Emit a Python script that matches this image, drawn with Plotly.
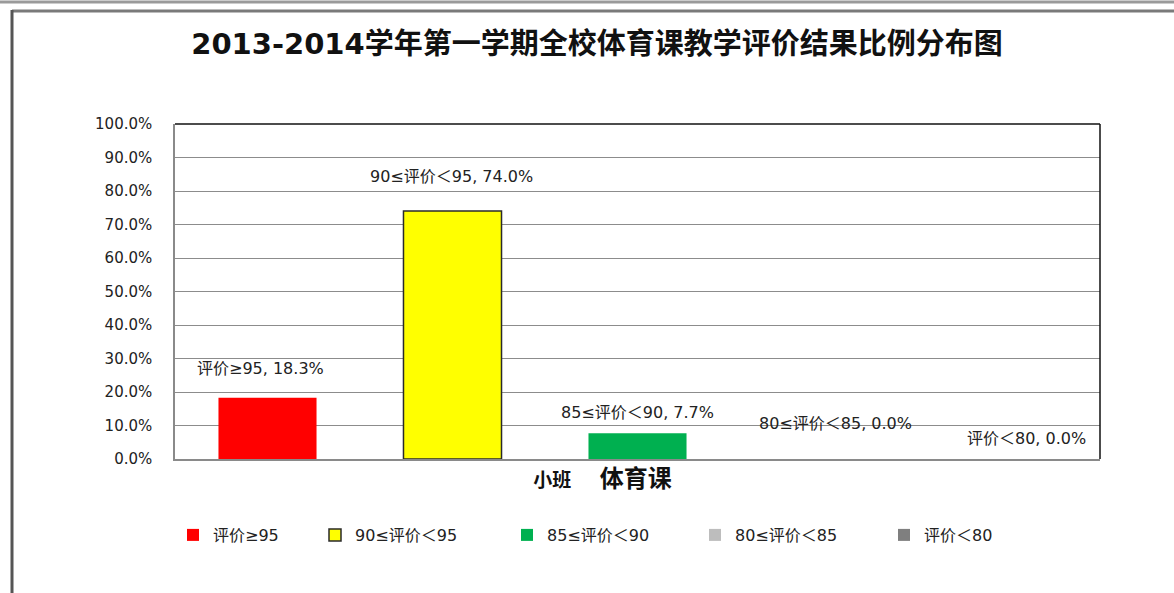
import plotly.graph_objects as go

# ---- data ----
category = ["<span style='font-size:19px'>小班</span>" + "\u00a0" * 7 + "<span style='font-size:24px'>体育课</span>"]
series_names = ["评价≥95", "90≤评价＜95", "85≤评价＜90", "80≤评价＜85", "评价＜80"]
values = [18.3, 74.0, 7.7, 0.0, 0.0]
colors = ["#FF0000", "#FFFF00", "#00B050", "#BDBDBD", "#7F7F7F"]
outline = ["#FF0000", "#2a2a2a", "#00B050", "#BDBDBD", "#7F7F7F"]
y_ticks = [0, 10, 20, 30, 40, 50, 60, 70, 80, 90, 100]
y_ticktext = [f"{v:.1f}%" for v in y_ticks]
title_text = "2013-2014学年第一学期全校体育课教学评价结果比例分布图"

# label offsets (pixels) relative to bar top / centre
slot_px = 185
label_dx = [-7, -1, 0, 13, 19]
label_dy = [29, 35, 21, 36, 21]
legend_x_px = [173, 315, 507, 695, 884]

FONT = "DejaVu Sans, Noto Sans CJK SC"

fig = go.Figure()
legend_ids = ["legend", "legend2", "legend3", "legend4", "legend5"]
for i, (name, v) in enumerate(zip(series_names, values)):
    fig.add_trace(go.Bar(
        x=category, y=[v], name=name, legend=legend_ids[i],
        marker=dict(color=colors[i], line=dict(color=outline[i], width=1.5 if i == 1 else 0)),
        hoverinfo="skip",
    ))

annotations = []
for i, (name, v) in enumerate(zip(series_names, values)):
    annotations.append(dict(
        x=category[0], y=v, xref="x", yref="y",
        text=f"{name}, {v:.1f}%", showarrow=False,
        xshift=(i - 2) * slot_px + label_dx[i], yshift=label_dy[i],
        font=dict(family=FONT, size=16, color="#222"),
        xanchor="center", yanchor="middle",
    ))

# plot area pixel frame: x 175..1100, y 124..459
W, H = 1174, 593
L, R, T, B = 175, 1100, 124, 459
def px(x):
    return (x - L) / (R - L)
def py(y):
    return (B - y) / (B - T)

shapes = [
    dict(type="line", xref="paper", yref="paper", x0=0, x1=1, y0=1, y1=1,
         line=dict(color="#111", width=1.5)),
    dict(type="line", xref="paper", yref="paper", x0=1, x1=1, y0=0, y1=1,
         line=dict(color="#111", width=1.5)),
    dict(type="line", xref="paper", yref="paper", x0=px(12), x1=px(1174), y0=py(11), y1=py(11),
         line=dict(color="#7a7a7a", width=3)),
    dict(type="line", xref="paper", yref="paper", x0=px(12), x1=px(12), y0=py(10), y1=py(593),
         line=dict(color="#555", width=3)),
    dict(type="line", xref="paper", yref="paper", x0=px(0), x1=px(1174), y0=py(2), y1=py(2),
         line=dict(color="#9a9a9a", width=3)),
]

legend_common = dict(
    orientation="h", xanchor="left", y=py(535), yanchor="middle",
    font=dict(family=FONT, size=16, color="#222"),
    itemclick=False, itemdoubleclick=False, bgcolor="rgba(0,0,0,0)",
)
legend_layout = {}
for i, lid in enumerate(legend_ids):
    legend_layout[lid] = dict(legend_common, x=px(legend_x_px[i]))

fig.update_layout(
    width=W, height=H,
    margin=dict(l=L, r=W - R, t=T, b=H - B, pad=0),
    paper_bgcolor="white", plot_bgcolor="white",
    barmode="group", bargap=0, bargroupgap=0.47,
    title=dict(text=f"<b>{title_text}</b>", x=597 / W, xanchor="center",
               y=1 - 44 / H, yanchor="middle",
               font=dict(family=FONT, size=29, color="#111")),
    font=dict(family=FONT, color="#222"),
    xaxis=dict(
        showgrid=False, showline=True, linecolor="#8a8a8a", linewidth=1.5,
        tickfont=dict(family="Noto Sans CJK SC", size=18, color="#111", weight="bold"),
        ticks="", ticklabelstandoff=5, ticklabelshift=-35,
        fixedrange=True,
    ),
    yaxis=dict(
        range=[0, 100], tickvals=y_ticks, ticktext=y_ticktext,
        showgrid=True, gridcolor="#8c8c8c", gridwidth=1,
        showline=True, linecolor="#8a8a8a", linewidth=1.5,
        zeroline=False, ticks="", ticklabelstandoff=18,
        tickfont=dict(family=FONT, size=15, color="#222"),
        fixedrange=True,
    ),
    annotations=annotations,
    shapes=shapes,
    showlegend=True,
    **legend_layout,
)

fig.write_html("out.html", config={"displayModeBar": False},
               post_script="document.body.style.margin='0px';")
